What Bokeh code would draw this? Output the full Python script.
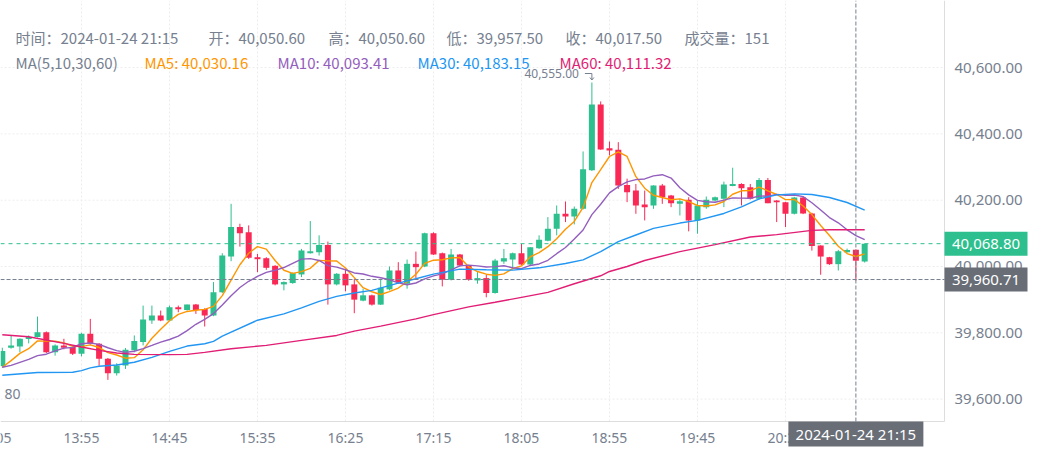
import numpy as np
import pandas as pd
from bokeh.plotting import figure
from bokeh.models import Range1d, Label, ColumnDataSource
from bokeh.core.properties import value
from bokeh.embed import file_html
from bokeh.resources import INLINE

# ---------------- data (5-minute candles, 2024-01-24 13:10 .. 21:20) ----------------
start_time = "2024-01-24 13:10"
opens = [39700, 39755, 39759, 39781, 39787, 39802, 39741, 39762, 39757, 39737,
         39797, 39767, 39722, 39678, 39701, 39747, 39772, 39837, 39852, 39837,
         39877, 39869, 39885, 39872, 39852, 39922, 40030, 40119, 40103, 40028,
         40025, 40002, 39946, 39950, 39976, 40040, 40043, 40065, 39946, 39978,
         39946, 39897, 39913, 39885, 39931, 39988, 39948, 40008, 40000, 40100,
         40040, 39960, 40036, 40003, 39958, 39965, 39920, 40015, 40021, 40040,
         40006, 40055, 40078, 40114, 40159, 40151, 40174, 40290, 40489, 40357,
         40352, 40246, 40229, 40187, 40184, 40244, 40214, 40189, 40201, 40139,
         40179, 40199, 40204, 40243, 40249, 40239, 40204, 40261, 40199, 40194,
         40159, 40208, 40160, 40063, 40028, 40007, 40043, 40050.6, 40015]
highs = [39755, 39792, 39783, 39792, 39849, 39804, 39765, 39782, 39760, 39800,
         39842, 39769, 39724, 39708, 39754, 39792, 39882, 39882, 39867, 39882,
         39882, 39885, 39887, 39874, 39953, 40040, 40189, 40129, 40124, 40038,
         40028, 40004, 39955, 39982, 40053, 40137, 40094, 40075, 39980, 39993,
         39963, 39933, 39915, 39963, 40000, 40013, 40021, 40045, 40102, 40103,
         40042, 40053, 40038, 40005, 39983, 39975, 40023, 40053, 40042, 40068,
         40058, 40094, 40149, 40184, 40196, 40181, 40347, 40555, 40498, 40377,
         40375, 40265, 40249, 40229, 40245, 40249, 40216, 40204, 40209, 40199,
         40211, 40211, 40256, 40298, 40251, 40249, 40267, 40267, 40200, 40195,
         40210, 40210, 40162, 40064, 40029, 40050, 40054, 40050.6, 40068.8]
lows = [39695, 39752, 39741, 39768, 39786, 39739, 39731, 39750, 39733, 39729,
        39764, 39701, 39658, 39671, 39691, 39741, 39762, 39827, 39835, 39836,
        39862, 39867, 39857, 39819, 39850, 39920, 40016, 40060, 40023, 39983,
        39990, 39943, 39928, 39948, 39968, 40039, 40033, 39885, 39943, 39925,
        39859, 39895, 39882, 39884, 39928, 39948, 39933, 39963, 39998, 40035,
        39940, 39958, 40000, 39957, 39948, 39907, 39918, 40008, 39998, 40005,
        40004, 40053, 40076, 40094, 40134, 40127, 40172, 40288, 40352, 40335,
        40234, 40194, 40159, 40139, 40174, 40189, 40179, 40154, 40106, 40099,
        40174, 40196, 40179, 40242, 40184, 40202, 40201, 40191, 40134, 40119,
        40157, 40158, 40048, 39975, 40005, 39988, 40042, 39957.5, 40012]
closes = [39745, 39762, 39782, 39787, 39802, 39741, 39762, 39755, 39737, 39797,
          39767, 39722, 39678, 39701, 39749, 39775, 39840, 39852, 39837, 39877,
          39871, 39885, 39869, 39852, 39922, 40033, 40119, 40100, 40026, 40022,
          39996, 39946, 39953, 39980, 40048, 40046, 40065, 39946, 39978, 39943,
          39900, 39913, 39885, 39936, 39988, 39953, 40008, 39998, 40100, 40036,
          39960, 40036, 40003, 39960, 39965, 39920, 40018, 40025, 40040, 40006,
          40058, 40081, 40114, 40159, 40151, 40174, 40293, 40489, 40353, 40350,
          40244, 40224, 40184, 40179, 40244, 40209, 40191, 40197, 40139, 40184,
          40201, 40209, 40247, 40249, 40236, 40204, 40261, 40191, 40194, 40159,
          40208, 40160, 40062, 40030, 40007, 40046, 40050, 40017.5, 40068.8]
# closes of the 9 candles before the visible window (needed for MA5 / MA10)
prior_closes = [39705, 39690, 39700, 39688, 39697, 39662, 39672, 39717, 39684]

# MA30 / MA60 (candle index -> value)
ma30_idx = [0, 4, 8, 9, 10, 11, 13, 15, 17, 19, 21, 23, 24, 25, 29, 32, 34, 36, 38, 40,
            42, 45, 47, 49, 52, 55, 58, 61, 64, 66, 68, 70, 72, 74, 77, 79, 82, 84, 86, 88,
            90, 92, 94, 96, 98]
ma30_val = [39672, 39680, 39681, 39686, 39694, 39699, 39703, 39711, 39726, 39744, 39760,
            39767, 39774, 39790, 39838, 39857, 39875, 39895, 39910, 39920, 39928, 39950,
            39963, 39977, 39992, 39990, 39989, 39996, 40009, 40020, 40045, 40075, 40095,
            40115, 40131, 40139, 40160, 40180, 40204, 40216, 40219, 40217, 40208, 40193,
            40170]
ma60_idx = [0, 3, 7, 9, 11, 13, 15, 19, 21, 23, 26, 30, 34, 38, 40, 43, 47, 49, 53, 56,
            59, 62, 65, 68, 69, 71, 73, 77, 81, 85, 88, 92, 94, 98]
ma60_val = [39794, 39788, 39768, 39757, 39747, 39739, 39735, 39734, 39735, 39741, 39752,
            39762, 39777, 39792, 39805, 39820, 39842, 39855, 39878, 39892, 39907, 39922,
            39948, 39972, 39985, 40000, 40018, 40045, 40066, 40089, 40096, 40109, 40111,
            40111]

cross_index = 97
cross_time = "2024-01-24 21:15"
cross_volume = 151
cross_price = 39960.71
ma_names = ["MA5", "MA10", "MA30", "MA60"]
ma_legend = [40030.16, 40093.41, 40183.15, 40111.32]
ma_colors = ["#FF9600", "#935EBD", "#2196F3", "#E11D74"]
y_ticks = [39600, 39800, 40000, 40200, 40400, 40600]
tick_every = 10
first_tick = 9

UP, DOWN, GREY, DARK = "#2DC08E", "#F92855", "#76808F", "#686D76"
AXIS_LINE, GRID = "#DDDDDD", "#EDEDED"

# ---------------- geometry (whole canvas is the drawing area) ----------------
W, H = 1042, 466
FW, FH = 944, 421            # price pane inside the canvas
xs0, xs1 = -0.2045, 107.07   # candle index at pane left / right edge
ys0, ys1 = 39532.4, 40802.4  # price at pane bottom / top
dxp = (xs1 - xs0) / FW
dyp = (ys1 - ys0) / FH
def X(px):
    return xs0 + px * dxp
def Y(py):
    return ys1 - py * dyp

n = len(closes)
idx = np.arange(n)
times = pd.date_range(start_time, periods=n, freq="5min")

allc = np.array(prior_closes + closes, dtype=float)
def sma(period):
    off = len(prior_closes)
    return [allc[off + i - period + 1: off + i + 1].mean() for i in range(n)]
ma5 = sma(5)
ma10 = sma(10)

o = np.array(opens); c = np.array(closes)
colors = [UP if cc >= oo else DOWN for oo, cc in zip(o, c)]
top = np.maximum(o, c); bot = np.minimum(o, c)
bot = np.where(top - bot < 1.2 * dyp, top - 1.2 * dyp, bot)
src = ColumnDataSource(dict(x=idx, top=top, bottom=bot, high=highs, low=lows, color=colors))

p = figure(width=W, height=H, x_range=Range1d(X(0), X(W)), y_range=Range1d(Y(H), Y(0)),
           x_axis_location=None, y_axis_location=None, toolbar_location=None,
           output_backend="svg", min_border=0)
p.outline_line_color = None
p.background_fill_color = "white"
p.border_fill_color = "white"
p.xgrid.visible = False
p.ygrid.visible = False

FONT = value("Noto Sans")

# grid
tick_idx = list(range(first_tick, n - 5, tick_every))
p.segment(x0=[xs0] * len(y_ticks), y0=y_ticks, x1=[xs1] * len(y_ticks), y1=y_ticks,
          line_color=GRID, line_dash="2 2", line_width=1)
p.segment(x0=tick_idx, y0=[ys0] * len(tick_idx), x1=tick_idx, y1=[ys1] * len(tick_idx),
          line_color=GRID, line_dash="2 2", line_width=1)
# axis lines
p.segment(x0=[xs0, xs1], y0=[ys0, ys0], x1=[xs1, xs1], y1=[ys0, ys1],
          line_color=AXIS_LINE, line_width=1)

# candles
p.segment(x0="x", y0="low", x1="x", y1="high", color="color", line_width=1, source=src)
p.vbar(x="x", top="top", bottom="bottom", width=6 * dxp, fill_color="color",
       line_color=None, source=src)

# moving averages
p.line(idx, ma5, color=ma_colors[0], line_width=1.4)
p.line(idx, ma10, color=ma_colors[1], line_width=1.4)
p.line(ma30_idx, ma30_val, color=ma_colors[2], line_width=1.4)
p.line(ma60_idx, ma60_val, color=ma_colors[3], line_width=1.4)

# high mark
hi_k = int(np.argmax(highs)); hv = highs[hi_k]
p.line([hi_k - 7 * dxp, hi_k, hi_k], [hv + 9 * dyp, hv + 9 * dyp, hv + 2.5 * dyp],
       color=GREY, line_width=1)
p.line([hi_k - 2 * dxp, hi_k, hi_k + 2 * dxp], [hv + 5 * dyp, hv + 2.5 * dyp, hv + 5 * dyp],
       color=GREY, line_width=1)
p.text(x=[hi_k - 13 * dxp], y=[hv + 9.5 * dyp], text=[f"{hv:,.2f}"], text_align="right",
       text_baseline="middle", text_font=FONT, text_font_size=value("12px"),
       text_color=GREY)

# axis tick labels
p.text(x=[xs1 + 10 * dxp] * len(y_ticks), y=y_ticks, text=[f"{v:,.2f}" for v in y_ticks],
       text_align="left", text_baseline="middle", text_font=FONT,
       text_font_size=value("15px"), text_color=GREY)
xt = [first_tick - tick_every] + tick_idx
p.text(x=xt, y=[Y(437)] * len(xt),
       text=[(times[0] + pd.Timedelta(minutes=5 * k)).strftime("%H:%M") for k in xt],
       text_align="center", text_baseline="middle", text_font=FONT,
       text_font_size=value("14px"), text_color=GREY)
p.text(x=[X(4)], y=[Y(393)], text=["80"], text_align="left", text_baseline="middle",
       text_font=FONT, text_font_size=value("14px"), text_color=GREY)

# last price / crosshair lines
p.segment(x0=[xs0], y0=[closes[-1]], x1=[xs1], y1=[closes[-1]], line_color=UP,
          line_dash="4 4", line_width=1)
p.segment(x0=[xs0], y0=[cross_price], x1=[xs1], y1=[cross_price], line_color=GREY,
          line_dash="4 2", line_width=1)
p.segment(x0=[cross_index], y0=[ys0], x1=[cross_index], y1=[ys1], line_color=GREY,
          line_dash="4 2", line_width=1)

# value boxes on the price axis and the time axis
box_w, box_h = 83, 24
for price, col in [(closes[-1], UP), (cross_price, DARK)]:
    p.quad(left=[xs1], right=[xs1 + box_w * dxp], bottom=[price - box_h / 2 * dyp],
           top=[price + box_h / 2 * dyp], fill_color=col, line_color=None)
    p.text(x=[xs1 + box_w / 2 * dxp], y=[price], text=[f"{price:,.2f}"],
           text_align="center", text_baseline="middle", text_font=FONT,
           text_font_size=value("15px"), text_color="white")
tb_w = 135
p.quad(left=[cross_index - tb_w / 2 * dxp], right=[cross_index + tb_w / 2 * dxp],
       top=[ys0], bottom=[ys0 - 25 * dyp], fill_color=DARK, line_color=None)
p.text(x=[cross_index], y=[ys0 - 12.5 * dyp], text=[cross_time], text_align="center",
       text_baseline="middle", text_font=FONT, text_font_size=value("15px"),
       text_color="white")

# legend rows
oc = cross_index
row1 = [(15, f"时间：{cross_time}"), (208, f"开：{opens[oc]:,.2f}"),
        (328, f"高：{highs[oc]:,.2f}"), (446, f"低：{lows[oc]:,.2f}"),
        (565, f"收：{closes[oc]:,.2f}"), (684, f"成交量：{cross_volume}")]
for px, t in row1:
    p.add_layout(Label(x=X(px), y=Y(37), text=t, text_align="left", text_baseline="middle",
                       text_color=GREY, text_font="Noto Sans CJK SC", text_font_size="15px"))
row2 = [(15, "MA(5,10,30,60)", GREY)]
for px, nm, v, col in zip([144, 277, 417, 559], ma_names, ma_legend, ma_colors):
    row2.append((px, f"{nm}: {v:,.2f}", col))
for px, t, col in row2:
    p.add_layout(Label(x=X(px), y=Y(62), text=t, text_align="left", text_baseline="middle",
                       text_color=col, text_font="Noto Sans CJK SC", text_font_size="15px"))

open("out.html", "w").write(file_html(p, INLINE))
